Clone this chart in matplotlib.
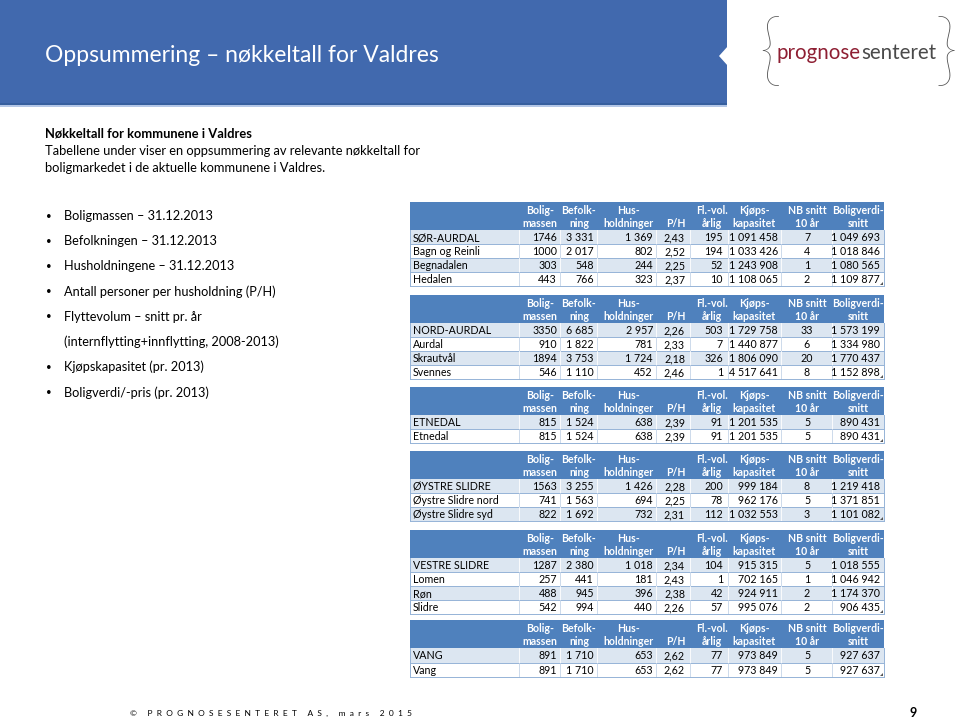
import matplotlib
matplotlib.use("Agg")
import matplotlib.pyplot as plt
from matplotlib.patches import Rectangle, Polygon

# ---------------- data ----------------
header_top = ["Bolig-", "Befolk-", "Hus-", "", "Fl.-vol.", "Kjøps-", "NB snitt", "Boligverdi-"]
header_bottom = ["massen", "ning", "holdninger", "P/H", "årlig", "kapasitet", "10 år", "snitt"]

sor_names = ["SØR-AURDAL", "Bagn og Reinli", "Begnadalen", "Hedalen"]
sor_rows = [[1746, 3331, 1369, 2.43, 195, 1091458, 7, 1049693],
            [1000, 2017, 802, 2.52, 194, 1033426, 4, 1018846],
            [303, 548, 244, 2.25, 52, 1243908, 1, 1080565],
            [443, 766, 323, 2.37, 10, 1108065, 2, 1109877]]

nord_names = ["NORD-AURDAL", "Aurdal", "Skrautvål", "Svennes"]
nord_rows = [[3350, 6685, 2957, 2.26, 503, 1729758, 33, 1573199],
             [910, 1822, 781, 2.33, 7, 1440877, 6, 1334980],
             [1894, 3753, 1724, 2.18, 326, 1806090, 20, 1770437],
             [546, 1110, 452, 2.46, 1, 4517641, 8, 1152898]]

etne_names = ["ETNEDAL", "Etnedal"]
etne_rows = [[815, 1524, 638, 2.39, 91, 1201535, 5, 890431],
             [815, 1524, 638, 2.39, 91, 1201535, 5, 890431]]

oys_names = ["ØYSTRE SLIDRE", "Øystre Slidre nord", "Øystre Slidre syd"]
oys_rows = [[1563, 3255, 1426, 2.28, 200, 999184, 8, 1219418],
            [741, 1563, 694, 2.25, 78, 962176, 5, 1371851],
            [822, 1692, 732, 2.31, 112, 1032553, 3, 1101082]]

ves_names = ["VESTRE SLIDRE", "Lomen", "Røn", "Slidre"]
ves_rows = [[1287, 2380, 1018, 2.34, 104, 915315, 5, 1018555],
            [257, 441, 181, 2.43, 1, 702165, 1, 1046942],
            [488, 945, 396, 2.38, 42, 924911, 2, 1174370],
            [542, 994, 440, 2.26, 57, 995076, 2, 906435]]

vang_names = ["VANG", "Vang"]
vang_rows = [[891, 1710, 653, 2.62, 77, 973849, 5, 927637],
             [891, 1710, 653, 2.62, 77, 973849, 5, 927637]]

title = "Oppsummering – nøkkeltall for Valdres"
intro_bold = "Nøkkeltall for kommunene i Valdres"
intro_lines = ["Tabellene under viser en oppsummering av relevante nøkkeltall for",
               "boligmarkedet i de aktuelle kommunene i Valdres."]
bullets = ["Boligmassen – 31.12.2013", "Befolkningen – 31.12.2013", "Husholdningene – 31.12.2013",
           "Antall personer per husholdning (P/H)", "Flyttevolum – snitt pr. år",
           "(internflytting+innflytting, 2008-2013)", "Kjøpskapasitet (pr. 2013)",
           "Boligverdi/-pris (pr. 2013)"]
bullet_marks = [True, True, True, True, True, False, True, True]
footer = "© PROGNOSESENTERET AS, mars 2015"
page_no = "9"

# ---------------- style ----------------
plt.rcParams['font.family'] = ['Lato', 'DejaVu Sans']
BAR = "#4169ae"
HDR = "#4f81bd"
BAND = "#dce6f1"
LINE = "#95b3d7"
TXT = "#000000"

fig = plt.figure(figsize=(9.6, 7.21), dpi=100)
ax = fig.add_axes([0, 0, 1, 1])
ax.set_xlim(0, 960)
ax.set_ylim(721, 0)
ax.axis('off')

# title bar
ax.add_patch(Rectangle((0, 0), 727, 105, color=BAR, lw=0))
ax.add_patch(Rectangle((0, 103), 727, 2, color="#365f9e", lw=0))
ax.add_patch(Rectangle((0, 105), 727, 2, color="#b4c7e7", lw=0))
ax.add_patch(Polygon([(728, 46), (719, 56), (728, 66)], closed=True, color="white", lw=0))
ax.text(45, 56, title, color="white", fontsize=16.5, fontweight='normal', va='center', ha='left')

# logo
ax.text(770, 54, "{", color="#555555", fontsize=58, fontweight='light', va='center', ha='center')
ax.text(946, 54, "}", color="#555555", fontsize=58, fontweight='light', va='center', ha='center')
ax.text(861, 53, "prognose", color="#8e1f33", fontsize=14.8, fontweight='normal', va='center', ha='right')
ax.text(861, 53, "senteret", color="#4a4a4a", fontsize=14.8, fontweight='normal', va='center', ha='left')

# intro text
ax.text(45, 133, intro_bold, fontsize=9.3, fontweight='bold', va='center', ha='left', color=TXT)
for i, line in enumerate(intro_lines):
    ax.text(45, 151 + i * 17, line, fontsize=9.3, va='center', ha='left', color=TXT)

for i, (b, m) in enumerate(zip(bullets, bullet_marks)):
    y = 216 + i * 25.2
    if m:
        ax.text(49, y, "•", fontsize=7, va='center', ha='center', color=TXT)
    ax.text(64, y, b, fontsize=9.2, va='center', ha='left', color=TXT)

# footer
ax.text(130, 713, "  ".join(list(footer)), fontsize=6.0, va='center', ha='left', color=TXT)
ax.text(913, 713, page_no, fontsize=9, fontweight='bold', va='center', ha='center', color=TXT)

# ---------------- tables ----------------
x_left, x_right = 410, 884
bounds = [410, 519, 560, 597, 656, 690, 728, 781, 832, 884]
hdr_cx = [540, 579, 629, 676, 712, 754, 807, 858]
# (anchor x, alignment) for data columns
data_pos = [(557, 'right'), (594, 'right'), (653, 'right'), (685, 'right'),
            (723, 'right'), (778, 'right'), (807, 'center'), (880, 'right')]
FS = 7.7
HFS = 7.6


def fmt(v, j):
    if j == 3:
        return f"{v:.2f}".replace(".", ",")
    if j == 0:
        return f"{v:d}"
    return f"{v:,d}".replace(",", " ")


def draw_table(top, hdr_h, row_h, names, rows):
    ax.add_patch(Rectangle((x_left, top), x_right - x_left, hdr_h, color=HDR, lw=0))
    for j in range(8):
        ax.text(hdr_cx[j], top + hdr_h * 0.29, header_top[j], color="white", fontsize=HFS,
                fontweight='bold', ha='center', va='center')
        ax.text(hdr_cx[j], top + hdr_h * 0.77, header_bottom[j], color="white", fontsize=HFS,
                fontweight='bold', ha='center', va='center')
    y = top + hdr_h
    for i, (nm, row) in enumerate(zip(names, rows)):
        band = (i % 2 == 0)
        ax.add_patch(Rectangle((x_left, y), x_right - x_left, row_h,
                               color=BAND if band else "white", lw=0))
        vc = "white" if band else "#c5d5e8"
        for bx in bounds[1:-1]:
            ax.plot([bx, bx], [y, y + row_h], color=vc, lw=0.6)
        ax.plot([x_left, x_right], [y + row_h, y + row_h], color=LINE, lw=0.7)
        base = y + row_h / 2 + 4.0
        ax.text(x_left + 3, base, nm, fontsize=FS, ha='left', va='baseline', color=TXT)
        for j, v in enumerate(row):
            xx, al = data_pos[j]
            ax.text(xx, base, fmt(v, j), fontsize=FS, ha=al, va='baseline', color=TXT)
        y += row_h
    ax.plot([x_left, x_left], [top + hdr_h, y], color=LINE, lw=0.7)
    ax.plot([x_right, x_right], [top + hdr_h, y], color=LINE, lw=0.7)
    ax.add_patch(Polygon([(x_right - 1, y - 4), (x_right - 1, y - 1), (x_right - 4, y - 1)],
                         closed=True, color="#555555", lw=0))


draw_table(202, 28, 14, sor_names, sor_rows)
draw_table(295, 28, 14, nord_names, nord_rows)
draw_table(387, 28, 14, etne_names, etne_rows)
draw_table(451, 28, 14, oys_names, oys_rows)
draw_table(530, 28, 14, ves_names, ves_rows)
draw_table(620, 28, 14.5, vang_names, vang_rows)

fig.savefig("out.png", dpi=100, facecolor="white")
